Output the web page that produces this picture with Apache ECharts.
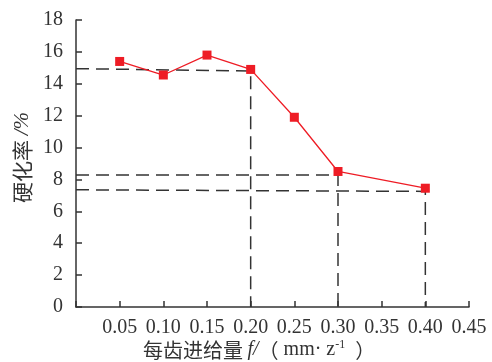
<!DOCTYPE html>
<html><head><meta charset="utf-8">
<script src="https://cdn.jsdelivr.net/npm/echarts@6/dist/echarts.min.js"></script>
<style>html,body{margin:0;padding:0;background:#fff}#c{width:492px;height:362px}</style>
</head><body><div id="c"></div>
<script>
const feed = [0.05, 0.10, 0.15, 0.20, 0.25, 0.30, 0.40];
const hardening = [15.4, 14.55, 15.8, 14.9, 11.9, 8.5, 7.45];
const guide1 = [[0, 14.95], [0.2, 14.8], [0.2, 0]];
const guide2 = [[0, 8.28], [0.3, 8.28], [0.3, 0]];
const guide3 = [[0, 7.35], [0.4, 7.25], [0.4, 0]];
const xTicks = [0.05, 0.10, 0.15, 0.20, 0.25, 0.30, 0.35, 0.40, 0.45];
const yTicks = [0, 2, 4, 6, 8, 10, 12, 14, 16, 18];

const chart = echarts.init(document.getElementById('c'), null, {renderer: 'canvas'});
const serif = 'Liberation Serif, DejaVu Serif, serif';
const axisCol = '#333';
const guideStyle = {color: '#333', width: 1.5, type: [13, 7]};
function guide(d) {
  return {type: 'line', data: d, symbol: 'none', lineStyle: guideStyle, silent: true, z: 1, animation: false};
}
chart.setOption({
  animation: false,
  grid: {left: 76, top: 20, right: 23, bottom: 55},
  xAxis: {
    type: 'value', min: 0, max: 0.45, interval: 0.05,
    axisLine: {show: true, lineStyle: {color: axisCol, width: 1.5}},
    axisTick: {show: true, inside: true, length: 6, lineStyle: {color: axisCol, width: 1.5}},
    splitLine: {show: false},
    axisLabel: {
      color: '#333', fontFamily: serif, fontSize: 20, margin: 11,
      formatter: v => (v === 0 ? '' : (xTicks.find(t => Math.abs(t - v) < 1e-6) ?? v).toFixed(2))
    }
  },
  yAxis: {
    type: 'value', min: 0, max: 18, interval: 2,
    axisLine: {show: true, lineStyle: {color: axisCol, width: 1.5}},
    axisTick: {show: true, inside: true, length: 6, lineStyle: {color: axisCol, width: 1.5}},
    splitLine: {show: false},
    axisLabel: {color: '#333', fontFamily: serif, fontSize: 20, margin: 13,
      formatter: v => String(yTicks.find(t => t === v) ?? v)}
  },
  graphic: [
    {type: 'text', x: 12, y: 203, rotation: Math.PI / 2,
      style: {
        text: '{c|硬化率 }{s|/%}',
        rich: {
          c: {fontSize: 21, fontFamily: 'Noto Sans CJK SC', fill: '#333'},
          s: {fontSize: 21, fontFamily: serif, fontStyle: 'italic', fill: '#333'}
        }
      }},
    {type: 'text', x: 143, y: 339,
      style: {
        text: '{c|每齿进给量 }{i|f/}{c|（}{s| mm· z}{sup|-1}{s|  }{c|）}',
        rich: {
          c: {fontSize: 20, fontFamily: 'Noto Sans CJK SC', fill: '#333'},
          i: {fontSize: 20, fontFamily: serif, fontStyle: 'italic', fill: '#333'},
          s: {fontSize: 20, fontFamily: serif, fill: '#333'},
          sup: {fontSize: 12, fontFamily: serif, fill: '#333', verticalAlign: 'top', padding: [0, 0, 10, 0]}
        }
      }}
  ],
  series: [
    guide(guide1), guide(guide2), guide(guide3),
    {type: 'line', data: feed.map((x, i) => [x, hardening[i]]),
      symbol: 'rect', symbolSize: 9,
      itemStyle: {color: '#ee1c25'}, lineStyle: {color: '#ee1c25', width: 1.3}, z: 3}
  ]
});
</script></body></html>
